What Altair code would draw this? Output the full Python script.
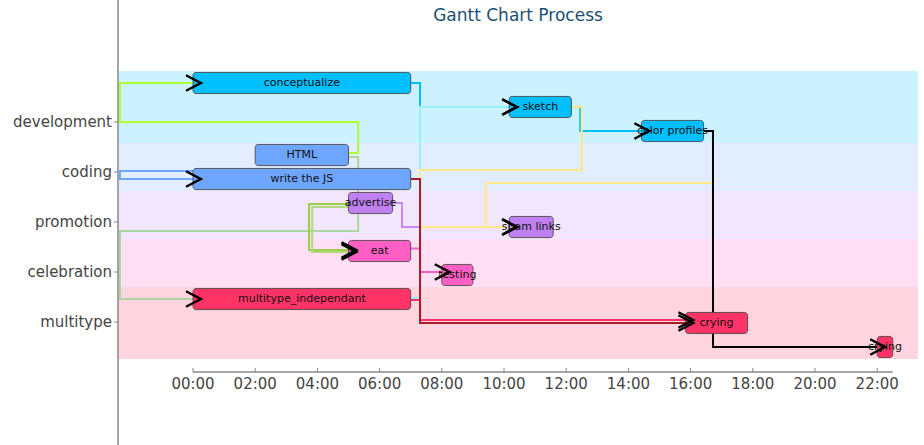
import altair as alt
import pandas as pd

# ---------------- data ----------------
categories = ["development", "coding", "promotion", "celebration", "multitype"]
category_colors = ["#00bfff", "#6ea6ff", "#c080f0", "#ff5ec4", "#ff3366"]
category_label_rows = [1.625, 3.708, 5.792, 7.875, 9.958]

tasks = ["conceptualize", "sketch", "color profiles", "HTML", "write the JS",
         "advertise", "spam links", "eat", "testing",
         "multitype_independant", "crying", "crying"]
task_categories = ["development", "development", "development", "coding", "coding",
                   "promotion", "promotion", "celebration", "celebration",
                   "multitype", "multitype", "multitype"]
task_start = [0.0, 10.167, 14.417, 2.0, 0.0, 5.0, 10.167, 5.0, 8.0, 0.0, 15.833, 22.0]
task_end = [7.0, 12.167, 16.417, 5.0, 7.0, 6.417, 11.583, 7.0, 9.0, 7.0, 17.833, 22.5]

tick_hours = [0, 2, 4, 6, 8, 10, 12, 14, 16, 18, 20, 22]
tick_labels = ["00:00", "02:00", "04:00", "06:00", "08:00", "10:00",
               "12:00", "14:00", "16:00", "18:00", "20:00", "22:00"]

# dependency connectors: colour and route (hour, row) waypoints
conn_colors = ["#adff2f", "#6ea6ff", "#b0d4a0", "#9ccf45", "#b2d77f",
               "#00bfff", "#9af0fa", "#c88af5", "#00bfff", "#ffe88a", "#ffe88a",
               "#ff5ec4", "#ff3366", "#a51c24", "#000000"]
conn_paths = [
    [(4.98, 2.92), (5.31, 2.92), (5.31, 1.625), (-2.35, 1.625), (-2.35, 0.0), (0.0, 0.0)],
    [(1.0, 3.67), (-2.35, 3.67), (-2.35, 4.0), (0.0, 4.0)],
    [(4.98, 3.08), (5.31, 3.08), (5.31, 6.17), (-2.35, 6.17), (-2.35, 9.0), (0.0, 9.0)],
    [(5.0, 5.04), (3.73, 5.04), (3.73, 6.96), (5.0, 6.96)],
    [(5.0, 5.17), (3.83, 5.17), (3.83, 7.04), (5.0, 7.04)],
    [(7.0, 0.0), (7.3, 0.0), (7.3, 1.0), (10.167, 1.0)],
    [(7.0, 8.96), (7.3, 8.96), (7.3, 1.0), (10.167, 1.0)],
    [(6.417, 5.0), (6.72, 5.0), (6.72, 6.0), (10.167, 6.0)],
    [(12.167, 1.0), (12.45, 1.0), (12.45, 2.0), (14.417, 2.0)],
    [(12.167, 1.0), (12.5, 1.0), (12.5, 3.625), (7.3, 3.625), (7.3, 6.0), (10.167, 6.0)],
    [(16.417, 2.0), (16.72, 2.0), (16.72, 4.17), (9.42, 4.17), (9.42, 6.0), (10.167, 6.0)],
    [(7.0, 6.9), (7.3, 6.9), (7.3, 7.875), (8.0, 7.875)],
    [(7.0, 9.04), (7.3, 9.04), (7.3, 9.875), (15.833, 9.875)],
    [(7.0, 4.0), (7.3, 4.0), (7.3, 10.0), (15.833, 10.0)],
    [(16.417, 2.0), (16.72, 2.0), (16.72, 11.0), (22.0, 11.0)],
]

# ---------------- tables ----------------
cat_color = dict(zip(categories, category_colors))
task_df = pd.DataFrame({
    "task": tasks, "category": task_categories,
    "start": task_start, "end": task_end,
})
task_df["row"] = range(len(tasks))
task_df["color"] = task_df["category"].map(cat_color)

band_rows = task_df.groupby("category", sort=False)["row"].agg(["min", "max"]).reset_index()
band_rows["color"] = band_rows["category"].map(cat_color)

cat_df = pd.DataFrame({"category": categories, "pos": category_label_rows})
tick_df = pd.DataFrame({"hour": tick_hours, "label": tick_labels})

conn_records = []
for cid, (col, path) in enumerate(zip(conn_colors, conn_paths)):
    for i, (h, r) in enumerate(path):
        conn_records.append({"cid": cid, "i": i, "h": h, "r": r, "color": col,
                             "last": i == len(path) - 1})
conn_df = pd.DataFrame(conn_records)
arrow_df = conn_df[conn_df["last"]]

# ---------------- scales (pixel layout) ----------------
PX_H = 31.1      # pixels per hour
X0 = 193         # pixel of 00:00
ROW_H = 24       # pixels per row
Y0 = 83          # pixel of first row centre
W, H = 924, 445
XS = alt.Scale(domain=[-X0 / PX_H, (W - X0) / PX_H], nice=False, zero=False)
YS = alt.Scale(domain=[-Y0 / ROW_H, (H - Y0) / ROW_H], nice=False, zero=False, reverse=True)
FONT = "DejaVu Sans"

bands = alt.Chart(band_rows).transform_calculate(
    y0="datum.min - 0.5", y1="datum.max + 0.5"
).mark_rect(opacity=0.2).encode(
    x=alt.value(118), x2=alt.value(918),
    y=alt.Y("y0:Q", scale=YS, axis=None), y2="y1:Q",
    color=alt.Color("color:N", scale=None),
)

lines = alt.Chart(conn_df).mark_line(strokeWidth=2).encode(
    x=alt.X("h:Q", scale=XS, axis=None),
    y=alt.Y("r:Q", scale=YS, axis=None),
    detail="cid:N", order="i:Q",
    color=alt.Color("color:N", scale=None),
)

bars = alt.Chart(task_df).transform_calculate(
    y0="datum.row - 0.44", y1="datum.row + 0.44"
).mark_rect(cornerRadius=3, stroke="#444444", strokeWidth=1, strokeOpacity=0.85).encode(
    x=alt.X("start:Q", scale=XS, axis=None), x2="end:Q",
    y=alt.Y("y0:Q", scale=YS, axis=None), y2="y1:Q",
    color=alt.Color("color:N", scale=None),
)

bar_text = alt.Chart(task_df).transform_calculate(
    mid="(datum.start + datum.end) / 2"
).mark_text(font=FONT, fontSize=11, color="#111111", baseline="middle", align="center").encode(
    x=alt.X("mid:Q", scale=XS, axis=None),
    y=alt.Y("row:Q", scale=YS, axis=None),
    text="task:N",
)

CHEVRON = "M-0.9,-1L1,0L-0.9,1"
arrows = alt.Chart(arrow_df).mark_point(
    shape=CHEVRON, size=240, filled=False, color="black", strokeWidth=2.5, opacity=1
).encode(
    x=alt.X("h:Q", scale=XS, axis=None),
    y=alt.Y("r:Q", scale=YS, axis=None),
)

# x axis
x_line = alt.Chart(task_df).mark_rule(color="#888888", strokeWidth=1.5).encode(
    x=alt.X("min(start):Q", scale=XS, axis=None), x2="max(end):Q",
    y=alt.value(372),
)
x_ticks = alt.Chart(tick_df).mark_rule(color="#888888").encode(
    x=alt.X("hour:Q", scale=XS, axis=None), y=alt.value(368), y2=alt.value(372),
)
x_labels = alt.Chart(tick_df).mark_text(font=FONT, fontSize=15, color="#444444",
                                        baseline="middle").encode(
    x=alt.X("hour:Q", scale=XS, axis=None), y=alt.value(384), text="label:N",
)

# y axis
y_line = alt.Chart(pd.DataFrame({"a": [0]})).mark_rule(color="#888888", strokeWidth=1.5).encode(
    x=alt.value(118), y=alt.value(0), y2=alt.value(H),
)
y_ticks = alt.Chart(cat_df).mark_rule(color="#888888").encode(
    x=alt.value(114), x2=alt.value(118),
    y=alt.Y("pos:Q", scale=YS, axis=None),
)
y_labels = alt.Chart(cat_df).mark_text(font=FONT, fontSize=15, color="#444444",
                                       align="right", baseline="middle").encode(
    x=alt.value(112), y=alt.Y("pos:Q", scale=YS, axis=None), text="category:N",
)

title = alt.Chart(pd.DataFrame({"t": ["Gantt Chart Process"]})).mark_text(
    font=FONT, fontSize=17, color="#1b4f72", align="center", baseline="middle"
).encode(x=alt.value(518), y=alt.value(16), text="t:N")

chart = alt.layer(
    bands, lines, bars, bar_text, arrows,
    x_line, x_ticks, x_labels, y_line, y_ticks, y_labels, title,
).properties(
    width=W, height=H, padding=0,
    autosize=alt.AutoSizeParams(type="none"),
).configure_view(stroke=None)

chart.save("out.html", embed_options={"renderer": "svg", "actions": False})
